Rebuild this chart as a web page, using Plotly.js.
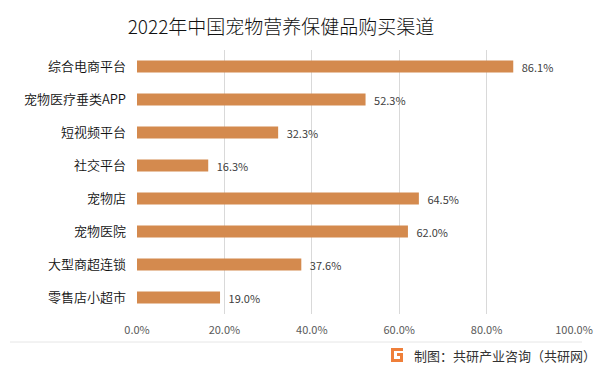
<!DOCTYPE html>
<html><head><meta charset="utf-8">
<script src="https://cdn.plot.ly/plotly-3.0.1.min.js"></script>
<style>html,body{margin:0;padding:0;background:#fff}#c{width:599px;height:373px}</style>
</head><body><div id="c"></div>
<script>
const categories = ["综合电商平台","宠物医疗垂类APP","短视频平台","社交平台","宠物店","宠物医院","大型商超连锁","零售店小超市"];
const values = [86.1, 52.3, 32.3, 16.3, 64.5, 62.0, 37.6, 19.0];
const tickVals = [0, 20, 40, 60, 80, 100];
const tickText = ["0.0%","20.0%","40.0%","60.0%","80.0%","100.0%"];
const titleText = "2022年中国宠物营养保健品购买渠道";
const sourceText = "制图：共研产业咨询（共研网）";

const font = "'Noto Sans CJK SC', 'Microsoft YaHei', sans-serif";
const W = 599, H = 373;
const L = 137, R = 25, T = 50, B = 59;
const px = x => x / W, py = y => 1 - y / H;

const trace = {
  type: "bar", orientation: "h",
  y: categories, x: values,
  marker: {color: "#D48A4E"},
  width: 0.36,
  text: values.map(v => "\u2002" + v.toFixed(1) + "%"),
  textposition: "outside",
  constraintext: "none",
  textfont: {family: font, size: 11, color: "#404040"},
  cliponaxis: false,
  hoverinfo: "skip"
};

const layout = {
  width: W, height: H,
  margin: {l: L, r: R, t: T, b: B},
  paper_bgcolor: "#fff", plot_bgcolor: "#fff",
  showlegend: false,
  font: {family: font, color: "#222"},
  title: {text: titleText, font: {family: font, size: 19, color: "#111", weight: 300}, x: px(281), xanchor: "center", y: py(27), yanchor: "middle"},
  xaxis: {range: [0, 100], tickvals: tickVals, ticktext: tickText, showgrid: true, gridcolor: "#d9d9d9", gridwidth: 1,
          zeroline: false, showline: false, ticks: "", tickfont: {family: font, size: 11, color: "#595959"}, ticklabelstandoff: 8, fixedrange: true},
  yaxis: {autorange: "reversed", showgrid: false, zeroline: false, showline: false, ticks: "",
          tickfont: {family: font, size: 13, color: "#111", weight: 350}, ticklabelstandoff: 10, fixedrange: true},
  shapes: [
    {type: "line", xref: "paper", yref: "paper", x0: (10 - L) / (W - L - R), x1: (582 - L) / (W - L - R), y0: -(342 - (H - B)) / (H - T - B), y1: -(342 - (H - B)) / (H - T - B), line: {color: "#e6e6e6", width: 1}},
  ],
  annotations: [
    {text: sourceText, xref: "paper", yref: "paper", x: (412 - L) / (W - L - R), y: -(355 - (H - B)) / (H - T - B), xanchor: "left", yanchor: "middle", showarrow: false,
     font: {family: font, size: 13, color: "#333"}}
  ]
};

const lx = (x) => (x - L) / (W - L - R), ly = (y) => -(y - (H - B)) / (H - T - B);
layout.shapes.push({type: "path", xref: "paper", yref: "paper",
  path: `M ${lx(391)} ${ly(348)} L ${lx(403)} ${ly(348)} L ${lx(403)} ${ly(351)} L ${lx(394)} ${ly(351)} L ${lx(394)} ${ly(359)} L ${lx(400)} ${ly(359)} L ${lx(400)} ${ly(356)} L ${lx(397)} ${ly(356)} L ${lx(397)} ${ly(353)} L ${lx(403)} ${ly(353)} L ${lx(403)} ${ly(362)} L ${lx(391)} ${ly(362)} Z`,
  fillcolor: "#EF7F3A", line: {width: 0}});

Plotly.newPlot("c", [trace], layout, {staticPlot: true, displayModeBar: false});
</script></body></html>
